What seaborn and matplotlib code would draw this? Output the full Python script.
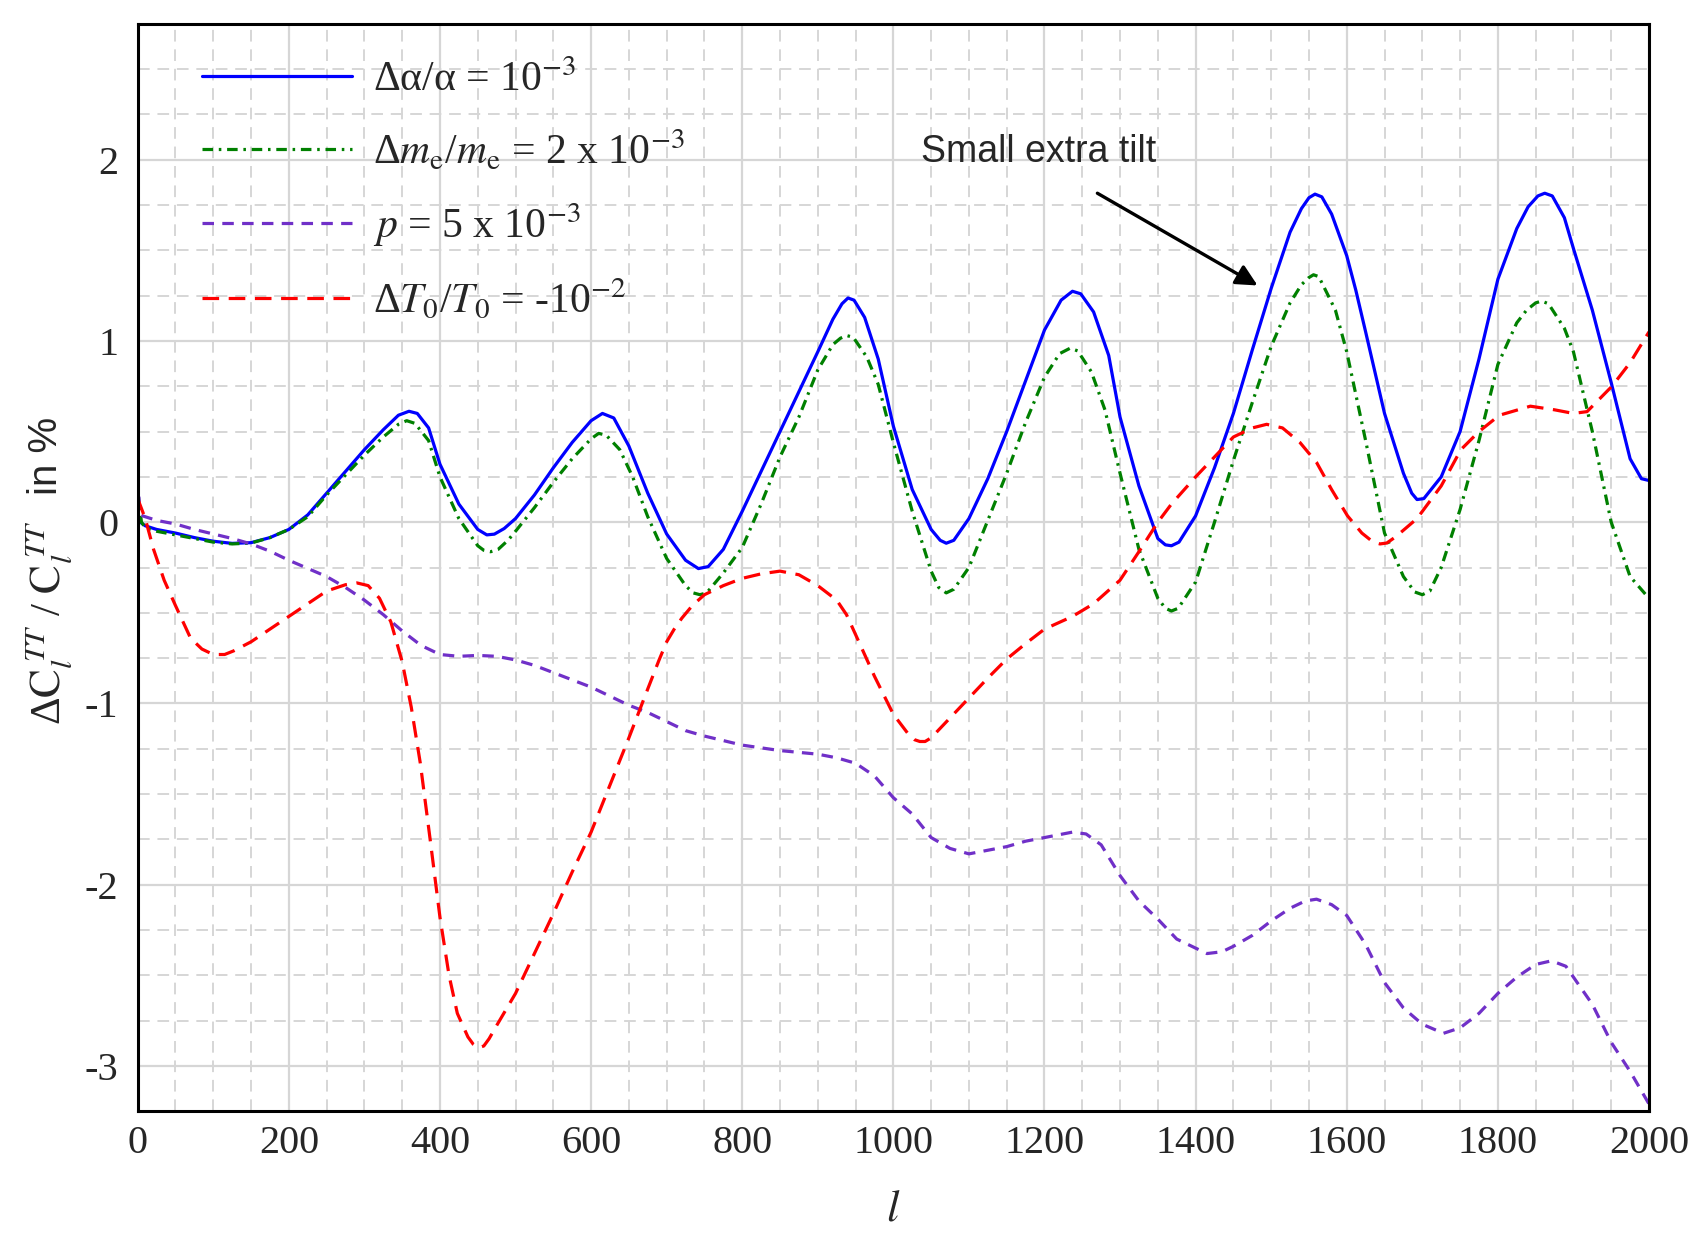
"""Relative change of the CMB TT spectrum for several parameter shifts."""

import matplotlib

matplotlib.use("Agg")
import matplotlib.pyplot as plt
import pandas as pd
import seaborn as sns
from matplotlib.ticker import MultipleLocator

# ---- data ------------------------------------------------------------------
alpha_l = [0, 10, 25, 50, 75, 100, 125, 150, 175, 200, 225, 250, 275, 300,
           325, 345, 359, 370, 385, 400, 425, 450, 462, 472, 485, 500, 525,
           550, 575, 600, 615, 630, 650, 675, 700, 725, 742, 755, 775, 800,
           825, 850, 875, 900, 920, 932, 940, 948, 962, 980, 1000, 1025, 1050,
           1062, 1070, 1080, 1100, 1125, 1150, 1175, 1200, 1222, 1237, 1248,
           1265, 1285, 1300, 1325, 1350, 1360, 1368, 1378, 1400, 1425, 1450,
           1475, 1500, 1525, 1540, 1550, 1558, 1567, 1580, 1600, 1612, 1625,
           1650, 1675, 1686, 1693, 1702, 1725, 1750, 1775, 1800, 1825, 1840,
           1853, 1862, 1872, 1888, 1900, 1925, 1950, 1975, 1990, 2000]
alpha_v = [0.01, -0.02, -0.04, -0.06, -0.085, -0.105, -0.117, -0.113, -0.085,
           -0.04, 0.04, 0.16, 0.28, 0.40, 0.51, 0.59, 0.612, 0.60, 0.52, 0.32,
           0.10, -0.04, -0.07, -0.066, -0.035, 0.02, 0.15, 0.30, 0.44, 0.56,
           0.60, 0.575, 0.42, 0.16, -0.065, -0.21, -0.256, -0.245, -0.15,
           0.06, 0.28, 0.50, 0.72, 0.94, 1.12, 1.205, 1.237, 1.225, 1.13, 0.90,
           0.53, 0.18, -0.04, -0.10, -0.116, -0.10, 0.02, 0.24, 0.50, 0.78,
           1.06, 1.225, 1.274, 1.26, 1.16, 0.92, 0.58, 0.20, -0.09, -0.125,
           -0.13, -0.11, 0.035, 0.30, 0.60, 0.95, 1.29, 1.60, 1.73, 1.79,
           1.81, 1.795, 1.70, 1.47, 1.28, 1.05, 0.60, 0.27, 0.16, 0.125, 0.13,
           0.25, 0.50, 0.90, 1.34, 1.62, 1.74, 1.80, 1.815, 1.80, 1.68, 1.51,
           1.17, 0.77, 0.35, 0.24, 0.23]

me_l = [0, 5, 10, 25, 50, 75, 100, 125, 150, 175, 200, 225, 250, 275, 300,
        325, 345, 356, 367, 385, 400, 425, 450, 458, 467, 477, 490, 500, 525,
        550, 575, 600, 610, 620, 638, 655, 675, 700, 725, 735, 744, 753, 775,
        800, 825, 850, 875, 900, 920, 930, 938, 947, 965, 980, 1000, 1025,
        1050, 1060, 1070, 1080, 1100, 1125, 1150, 1175, 1200, 1220, 1234,
        1244, 1262, 1280, 1300, 1325, 1350, 1360, 1368, 1377, 1400, 1425,
        1450, 1475, 1500, 1525, 1540, 1550, 1556, 1563, 1585, 1600, 1625,
        1650, 1675, 1690, 1700, 1710, 1725, 1750, 1775, 1800, 1825, 1838,
        1850, 1858, 1867, 1888, 1900, 1925, 1950, 1975, 2000]
me_v = [0.17, 0.0, -0.03, -0.05, -0.07, -0.09, -0.11, -0.12, -0.115, -0.085,
        -0.04, 0.03, 0.15, 0.26, 0.37, 0.47, 0.54, 0.56, 0.545, 0.45, 0.25,
        0.02, -0.13, -0.155, -0.163, -0.15, -0.10, -0.05, 0.08, 0.22, 0.35,
        0.46, 0.49, 0.48, 0.40, 0.25, 0.03, -0.20, -0.35, -0.39, -0.40,
        -0.39, -0.28, -0.14, 0.10, 0.36, 0.58, 0.84, 0.98, 1.015, 1.03, 1.02,
        0.91, 0.76, 0.44, 0.06, -0.27, -0.36, -0.39, -0.37, -0.25, 0.01,
        0.27, 0.55, 0.80, 0.93, 0.96, 0.945, 0.83, 0.62, 0.27, -0.15, -0.42,
        -0.475, -0.49, -0.475, -0.33, 0.00, 0.34, 0.66, 0.97, 1.21, 1.31,
        1.35, 1.365, 1.355, 1.17, 0.94, 0.45, -0.06, -0.30, -0.385, -0.40,
        -0.38, -0.25, 0.07, 0.45, 0.87, 1.10, 1.17, 1.21, 1.22, 1.205, 1.07,
        0.94, 0.50, 0.00, -0.30, -0.42]

p_l = [0, 3, 10, 25, 50, 75, 100, 125, 150, 175, 200, 225, 250, 275, 300,
       325, 350, 375, 400, 425, 450, 475, 500, 525, 550, 575, 600, 625, 650,
       675, 700, 725, 750, 800, 850, 900, 925, 950, 975, 1000, 1025, 1050,
       1075, 1100, 1125, 1150, 1175, 1200, 1237, 1255, 1275, 1300, 1325,
       1350, 1375, 1400, 1415, 1435, 1450, 1475, 1500, 1525, 1545, 1560,
       1580, 1600, 1625, 1650, 1675, 1700, 1728, 1750, 1775, 1800, 1825,
       1850, 1871, 1890, 1900, 1925, 1950, 1975, 2000]
p_v = [0.25, 0.04, 0.03, 0.01, -0.01, -0.04, -0.065, -0.09, -0.12, -0.16,
       -0.21, -0.255, -0.30, -0.36, -0.43, -0.51, -0.60, -0.68, -0.73, -0.74,
       -0.735, -0.74, -0.76, -0.79, -0.83, -0.87, -0.91, -0.96, -1.01, -1.05,
       -1.10, -1.15, -1.18, -1.23, -1.26, -1.28, -1.30, -1.33, -1.40, -1.52,
       -1.61, -1.74, -1.80, -1.83, -1.81, -1.79, -1.76, -1.74, -1.71, -1.72,
       -1.78, -1.95, -2.09, -2.19, -2.30, -2.35, -2.38, -2.37, -2.34, -2.28,
       -2.20, -2.13, -2.09, -2.08, -2.11, -2.17, -2.33, -2.54, -2.68, -2.77,
       -2.82, -2.79, -2.71, -2.60, -2.51, -2.44, -2.42, -2.45, -2.51, -2.66,
       -2.87, -3.03, -3.21]

t0_l = [0, 10, 21, 35, 50, 70, 85, 100, 115, 127, 150, 175, 200, 225, 250,
        275, 290, 305, 320, 335, 350, 362, 374, 387, 400, 412, 423, 437, 444,
        451, 458, 465, 476, 500, 525, 550, 575, 600, 625, 650, 675, 690, 700,
        710, 720, 734, 750, 775, 800, 825, 850, 875, 900, 925, 938, 950, 975,
        1000, 1020, 1028, 1035, 1042, 1050, 1075, 1100, 1125, 1150, 1175,
        1200, 1237, 1265, 1300, 1327, 1350, 1368, 1400, 1450, 1475, 1494,
        1515, 1538, 1560, 1580, 1601, 1620, 1635, 1644, 1653, 1665, 1693,
        1725, 1751, 1775, 1802, 1843, 1875, 1900, 1918, 1951, 1975, 2000]
t0_v = [0.13, 0.02, -0.15, -0.32, -0.46, -0.64, -0.70, -0.73, -0.73, -0.71,
        -0.66, -0.59, -0.52, -0.45, -0.38, -0.345, -0.335, -0.35, -0.42,
        -0.55, -0.77, -1.02, -1.33, -1.75, -2.18, -2.50, -2.71, -2.84, -2.88,
        -2.90, -2.89, -2.85, -2.77, -2.60, -2.38, -2.16, -1.93, -1.71, -1.45,
        -1.19, -0.92, -0.76, -0.66, -0.59, -0.53, -0.46, -0.40, -0.35, -0.31,
        -0.285, -0.27, -0.29, -0.35, -0.43, -0.51, -0.62, -0.85, -1.06,
        -1.17, -1.20, -1.21, -1.21, -1.19, -1.08, -0.97, -0.86, -0.755,
        -0.67, -0.59, -0.52, -0.45, -0.32, -0.15, 0.00, 0.10, 0.25, 0.47,
        0.52, 0.54, 0.52, 0.44, 0.33, 0.18, 0.035, -0.06, -0.11, -0.12,
        -0.115, -0.08, 0.02, 0.20, 0.40, 0.50, 0.59, 0.64, 0.62, 0.60, 0.61,
        0.75, 0.88, 1.05]

series_names = ["alpha", "me", "p", "T0"]
series_labels = [
    r"Δα/α = 10$^{-3}$",
    r"Δ$m_{\mathrm{e}}$/$m_{\mathrm{e}}$ = 2 x 10$^{-3}$",
    r"$p$ = 5 x 10$^{-3}$",
    r"Δ$T_0$/$T_0$ = -10$^{-2}$",
]
series_colors = ["#0000FF", "#008000", "#7030C8", "#FF0000"]
series_dashes = ["", (3.3, 1.8, 0.8, 1.8), (3.6, 2.6), (5.2, 3.0)]

df = pd.concat(
    [
        pd.DataFrame({"l": alpha_l, "dC": alpha_v, "series": "alpha"}),
        pd.DataFrame({"l": me_l, "dC": me_v, "series": "me"}),
        pd.DataFrame({"l": p_l, "dC": p_v, "series": "p"}),
        pd.DataFrame({"l": t0_l, "dC": t0_v, "series": "T0"}),
    ],
    ignore_index=True,
)

# ---- style ------------------------------------------------------------------
sns.set_style("white")
plt.rcParams["font.family"] = ["Liberation Serif", "DejaVu Serif"]
plt.rcParams["mathtext.fontset"] = "stix"
plt.rcParams["axes.unicode_minus"] = False

fig, ax = plt.subplots(figsize=(17, 12.5), dpi=100)
fig.subplots_adjust(left=0.081, right=0.970, top=0.981, bottom=0.111)

sns.lineplot(
    data=df,
    x="l",
    y="dC",
    hue="series",
    style="series",
    hue_order=series_names,
    style_order=series_names,
    palette=dict(zip(series_names, series_colors)),
    dashes=dict(zip(series_names, series_dashes)),
    estimator=None,
    sort=True,
    linewidth=2.3,
    legend=False,
    ax=ax,
)

ax.set_xlim(0, 2000)
ax.set_ylim(-3.25, 2.75)
ax.xaxis.set_major_locator(MultipleLocator(200))
ax.xaxis.set_minor_locator(MultipleLocator(50))
ax.yaxis.set_major_locator(MultipleLocator(1))
ax.yaxis.set_minor_locator(MultipleLocator(0.25))
ax.grid(which="major", color="#d6d6d6", linestyle="-", linewidth=1.6)
ax.grid(which="minor", color="#d6d6d6", linestyle=(0, (6, 4)), linewidth=1.4)
ax.set_axisbelow(True)
ax.tick_params(which="both", length=0, labelsize=29)
ax.tick_params(axis="x", pad=10)
ax.tick_params(axis="y", pad=14)
for spine in ax.spines.values():
    spine.set_color("black")
    spine.set_linewidth(2.2)

ax.set_xlabel(r"$l$", fontsize=32)
ax.xaxis.set_label_coords(0.5, -0.072)
ax.set_ylabel("")
ax.text(-0.058, 0.449, r"Δ$\mathrm{C}_{l}^{\;TT}$ / $\mathrm{C}_{l}^{\;TT}$",
        transform=ax.transAxes, rotation=90, ha="center", va="center",
        fontsize=31)
ax.text(-0.061, 0.603, "in %", transform=ax.transAxes, rotation=90,
        ha="center", va="center", fontsize=29, family="Liberation Sans")

ax.legend(
    handles=ax.lines[:4],
    labels=series_labels,
    loc="upper left",
    bbox_to_anchor=(0.018, 1.0),
    frameon=False,
    fontsize=30,
    handlelength=3.6,
    handletextpad=0.5,
    labelspacing=0.68,
)

ax.text(1192, 2.04, "Small extra tilt", ha="center", va="center",
        fontsize=27, family="Liberation Sans")
ax.annotate(
    "",
    xy=(1482, 1.306),
    xytext=(1270, 1.815),
    textcoords="data",
    arrowprops=dict(
        arrowstyle="-|>",
        color="black",
        lw=2.4,
        mutation_scale=32,
        shrinkA=0,
        shrinkB=0,
    ),
)

fig.savefig("out.png", dpi=100)
plt.close(fig)
